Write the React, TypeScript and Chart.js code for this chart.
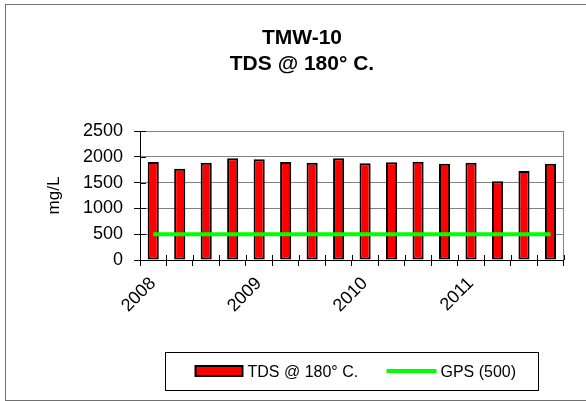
import React, { useEffect, useRef } from 'react';
import { Chart, registerables } from 'chart.js';

Chart.register(...registerables);

// ---- data ----
const quarters = [
  '2008 Q1', '2008 Q2', '2008 Q3', '2008 Q4',
  '2009 Q1', '2009 Q2', '2009 Q3', '2009 Q4',
  '2010 Q1', '2010 Q2', '2010 Q3', '2010 Q4',
  '2011 Q1', '2011 Q2', '2011 Q3', '2011 Q4',
];
const yearLabels = ['2008', '2009', '2010', '2011'];
const tdsValues = [1899, 1770, 1886, 1970, 1951, 1899, 1886, 1970, 1873, 1893, 1906, 1867, 1886, 1525, 1725, 1867];
const gpsValues = [500, 500, 500, 500, 500, 500, 500, 500, 500, 500, 500, 500, 500, 500, 500, 500];
const yMin = 0;
const yMax = 2500;
const yStep = 500;
const titleLines = ['TMW-10', 'TDS @ 180° C.'];
const yAxisLabel = 'mg/L';
const seriesNames = ['TDS @ 180° C.', 'GPS (500)'];

const FONT = "'Liberation Sans', Arial, sans-serif";
const W = 586;
const H = 401;

const decorPlugin = {
  id: 'decor',
  beforeDraw(chart: any) {
    const { ctx, width } = chart;
    ctx.save();
    ctx.fillStyle = '#ffffff';
    ctx.fillRect(0, 0, width, chart.height);
    ctx.strokeStyle = '#707070';
    ctx.lineWidth = 1;
    ctx.strokeRect(5.5, 4.5, width + 10, 396);
    ctx.restore();
  },
  beforeDatasetsDraw(chart: any) {
    const { ctx, chartArea } = chart;
    ctx.save();
    ctx.strokeStyle = '#808080';
    ctx.lineWidth = 1;
    ctx.beginPath();
    const rx = Math.round(chartArea.right) - 0.5;
    ctx.moveTo(rx, chartArea.top);
    ctx.lineTo(rx, chartArea.bottom);
    ctx.stroke();
    ctx.restore();
  },
  afterDraw(chart: any) {
    const { ctx, chartArea, scales } = chart;
    ctx.save();
    // inner halves of the crossing tick marks
    ctx.strokeStyle = '#000';
    ctx.lineWidth = 1;
    ctx.beginPath();
    scales.y.ticks.forEach((t: any) => {
      const py = Math.round(scales.y.getPixelForValue(t.value)) + 0.5;
      ctx.moveTo(chartArea.left, py);
      ctx.lineTo(chartArea.left + 6, py);
    });
    scales.x.ticks.forEach((t: any) => {
      const px = Math.round(scales.x.getPixelForValue(t.value)) + 0.5;
      ctx.moveTo(px, chartArea.bottom);
      ctx.lineTo(px, chartArea.bottom - 5);
    });
    ctx.stroke();

    // title
    ctx.fillStyle = '#000';
    ctx.font = `bold 21px ${FONT}`;
    ctx.textAlign = 'center';
    ctx.textBaseline = 'alphabetic';
    const tx = 302;
    titleLines.forEach((line, i) => {
      ctx.fillText(line, tx, 44 + i * 26);
    });

    // legend
    const ds = chart.data.datasets;
    const cx = (chartArea.left + chartArea.right) / 2;
    const bw = 373;
    const bx = Math.round(cx - bw / 2) + 0.5;
    const by = 352.5;
    ctx.strokeStyle = '#000';
    ctx.lineWidth = 1;
    ctx.strokeRect(bx, by, bw, 38);
    const midY = by + 18.5;
    // bar item
    const sx = bx + 30;
    ctx.fillStyle = ds[0].backgroundColor;
    ctx.fillRect(sx, midY - 5, 47, 10);
    ctx.strokeStyle = ds[0].borderColor;
    ctx.lineWidth = 2;
    ctx.strokeRect(sx, midY - 5, 47, 10);
    ctx.fillStyle = '#000';
    ctx.font = `16px ${FONT}`;
    ctx.textAlign = 'left';
    ctx.textBaseline = 'alphabetic';
    ctx.fillText(ds[0].label, sx + 52, midY + 6);
    // line item
    const lx = bx + 221;
    ctx.strokeStyle = ds[1].borderColor;
    ctx.lineWidth = 4;
    ctx.beginPath();
    ctx.moveTo(lx, midY);
    ctx.lineTo(lx + 50, midY);
    ctx.stroke();
    ctx.fillStyle = '#000';
    ctx.fillText(ds[1].label, lx + 54, midY + 6);
    ctx.restore();
  },
};

export default function App() {
  const ref = useRef<HTMLCanvasElement | null>(null);

  useEffect(() => {
    if (!ref.current) return;
    const chart = new Chart(ref.current, {
      type: 'bar',
      data: {
        datasets: [
          {
            type: 'bar',
            label: seriesNames[0],
            data: tdsValues.map((v, i) => ({ x: i + 0.5, y: v })),
            backgroundColor: '#FF0000',
            borderColor: '#000000',
            borderWidth: 2,
            borderSkipped: false,
            barPercentage: 0.42,
            categoryPercentage: 1,
            order: 2,
          },
          {
            type: 'line',
            label: seriesNames[1],
            data: gpsValues.map((v, i) => ({ x: i + 0.5, y: v })),
            borderColor: '#00FF00',
            backgroundColor: '#00FF00',
            borderWidth: 4,
            pointRadius: 0,
            fill: false,
            order: 1,
          },
        ] as any,
      },
      options: {
        animation: false,
        responsive: false,
        devicePixelRatio: 1,
        layout: { padding: { left: 0, right: 20, top: 131, bottom: 0 } },
        plugins: {
          legend: { display: false },
          title: { display: false },
          tooltip: { enabled: false },
        },
        scales: {
          x: {
            type: 'linear',
            min: 0,
            max: quarters.length,
            offset: false,
            afterFit: (s: any) => { s.height = 141; },
            ticks: {
              stepSize: 1,
              autoSkip: false,
              maxRotation: 45,
              minRotation: 45,
              padding: 7,
              labelOffset: 13,
              color: '#000',
              font: { family: FONT, size: 18 },
              callback: (v: any) => {
                const n = Number(v);
                return n % 4 === 0 && n / 4 < yearLabels.length ? yearLabels[n / 4] : '';
              },
            },
            grid: {
              offset: false,
              drawOnChartArea: false,
              drawTicks: true,
              tickLength: 6,
              tickColor: '#000',
              color: '#000',
            },
            border: { color: '#000', width: 1 },
          },
          y: {
            type: 'linear',
            min: yMin,
            max: yMax,
            afterFit: (s: any) => { s.width = 140; },
            ticks: {
              stepSize: yStep,
              padding: 11,
              color: '#000',
              font: { family: FONT, size: 18 },
              callback: (v: any) => String(v),
            },
            grid: {
              color: '#808080',
              lineWidth: 1,
              drawTicks: true,
              tickLength: 6,
              tickColor: '#000',
            },
            border: { color: '#000', width: 1 },
            title: {
              display: true,
              text: yAxisLabel,
              color: '#000',
              font: { family: FONT, size: 17 },
              padding: { top: 44, bottom: 0 },
            },
          },
        },
      } as any,
      plugins: [decorPlugin],
    });
    return () => chart.destroy();
  }, []);

  return (
    <div style={{ position: 'absolute', left: 0, top: 0, width: W, height: H }}>
      <canvas ref={ref} width={W} height={H} style={{ width: W, height: H, display: 'block' }} />
    </div>
  );
}
